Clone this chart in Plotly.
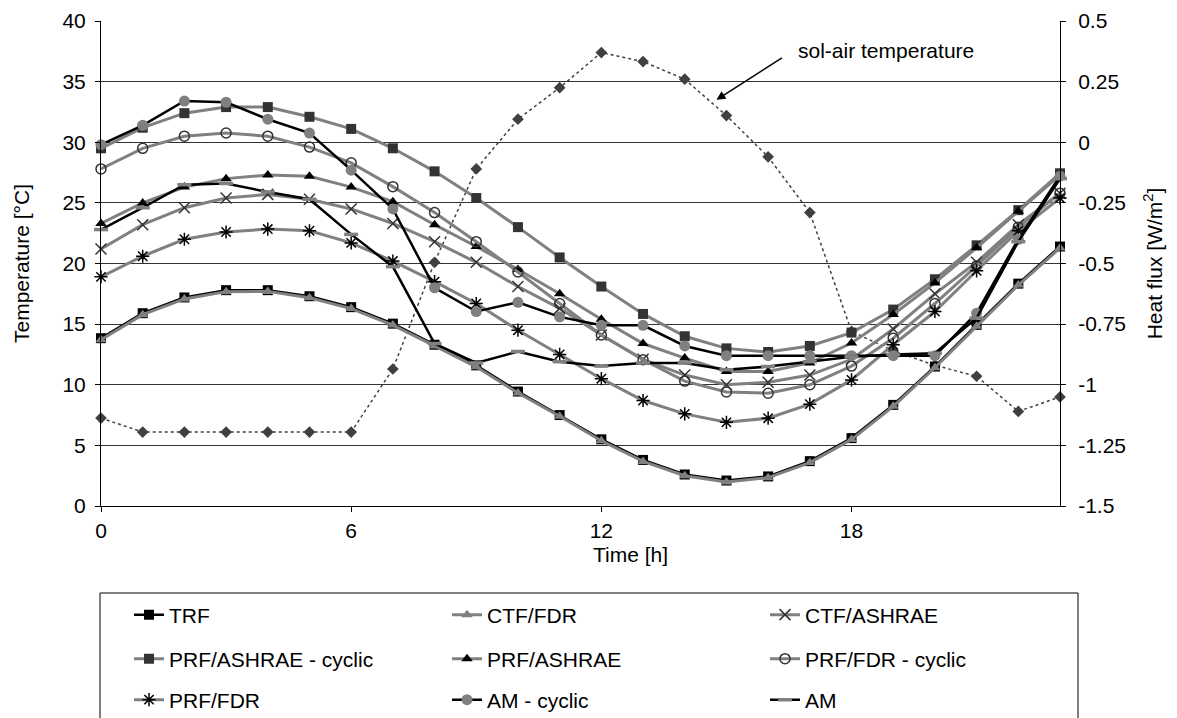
import plotly.graph_objects as go

hours = list(range(24))

# sol-air temperature [°C] (left axis)
sol_air = [7.25, 6.1, 6.1, 6.1, 6.1, 6.1, 6.1, 11.3, 20.1, 27.8, 31.9, 34.5,
           37.4, 36.65, 35.2, 32.2, 28.8, 24.2, 14.4, 12.8, 11.6, 10.7, 7.8, 9.0]

# heat flux [W/m2] (right axis)
trf = [-0.808, -0.705, -0.64, -0.61, -0.61, -0.635, -0.68, -0.748, -0.835, -0.92, -1.028, -1.125,
       -1.225, -1.31, -1.37, -1.395, -1.378, -1.315, -1.22, -1.083, -0.925, -0.753, -0.583, -0.43]
ctf_fdr = [-0.814, -0.711, -0.646, -0.616, -0.615, -0.641, -0.686, -0.754, -0.840, -0.926, -1.034, -1.130,
           -1.231, -1.316, -1.375, -1.401, -1.383, -1.321, -1.226, -1.089, -0.930, -0.759, -0.589, -0.436]
ctf_ashrae = [-0.44, -0.34, -0.27, -0.23, -0.215, -0.235, -0.275, -0.335, -0.41, -0.495, -0.595, -0.685,
              -0.795, -0.895, -0.96, -1.0, -0.99, -0.96, -0.895, -0.77, -0.625, -0.495, -0.34, -0.21]
prf_ashrae_cyc = [-0.025, 0.06, 0.12, 0.145, 0.145, 0.105, 0.055, -0.025, -0.12, -0.23, -0.35, -0.475,
                  -0.595, -0.708, -0.8, -0.85, -0.865, -0.84, -0.785, -0.69, -0.565, -0.425, -0.28, -0.128]
prf_ashrae = [-0.335, -0.25, -0.185, -0.15, -0.135, -0.14, -0.185, -0.245, -0.34, -0.43, -0.525, -0.625,
              -0.73, -0.83, -0.89, -0.945, -0.945, -0.91, -0.828, -0.71, -0.58, -0.435, -0.285, -0.135]
prf_fdr_cyc = [-0.11, -0.025, 0.025, 0.038, 0.025, -0.02, -0.085, -0.183, -0.29, -0.41, -0.535, -0.665,
               -0.795, -0.897, -0.985, -1.03, -1.035, -1.0, -0.923, -0.808, -0.665, -0.51, -0.35, -0.21]
prf_fdr = [-0.555, -0.47, -0.4, -0.37, -0.358, -0.365, -0.415, -0.49, -0.575, -0.665, -0.775, -0.875,
           -0.975, -1.065, -1.12, -1.155, -1.138, -1.08, -0.98, -0.835, -0.698, -0.53, -0.365, -0.23]
am_cyc = [-0.01, 0.07, 0.17, 0.165, 0.095, 0.038, -0.115, -0.275, -0.6, -0.698, -0.66, -0.72,
          -0.755, -0.755, -0.84, -0.88, -0.88, -0.88, -0.88, -0.88, -0.88, -0.705, -0.4, -0.14]
am = [-0.36, -0.27, -0.175, -0.17, -0.205, -0.235, -0.38, -0.513, -0.83, -0.91, -0.863, -0.905,
      -0.923, -0.91, -0.91, -0.938, -0.925, -0.905, -0.885, -0.875, -0.87, -0.725, -0.41, -0.15]

x_ticks = [0, 6, 12, 18]
y_ticks = [0, 5, 10, 15, 20, 25, 30, 35, 40]
y2_ticks = [0.5, 0.25, 0, -0.25, -0.5, -0.75, -1, -1.25, -1.5]
y2_labels = ["0.5", "0.25", "0", "-0.25", "-0.5", "-0.75", "-1", "-1.25", "-1.5"]

FONT = "Liberation Sans, Arial, sans-serif"
FS = 21
GRAY = "#808080"
DARK = "#333333"
BLACK = "#000000"

fig = go.Figure()

fig.add_trace(go.Scatter(
    x=hours, y=sol_air, mode="lines+markers", yaxis="y", showlegend=False,
    line=dict(color="#404040", width=1.5, dash="3px,3px"),
    marker=dict(symbol="diamond", size=9, color="#404040"), cliponaxis=False))

series = [
    ("TRF", trf, BLACK, 2.5, dict(symbol="square", size=10, color=BLACK), "legend"),
    ("CTF/FDR", ctf_fdr, GRAY, 3, dict(symbol="triangle-up", size=10, color=GRAY), "legend"),
    ("CTF/ASHRAE", ctf_ashrae, GRAY, 3,
     dict(symbol="x-thin-open", size=11, color=DARK, line=dict(color=DARK, width=1.5)), "legend"),
    ("PRF/ASHRAE - cyclic", prf_ashrae_cyc, GRAY, 3, dict(symbol="square", size=10, color=DARK), "legend2"),
    ("PRF/ASHRAE", prf_ashrae, GRAY, 3, dict(symbol="triangle-up", size=10, color=BLACK), "legend2"),
    ("PRF/FDR - cyclic", prf_fdr_cyc, GRAY, 3,
     dict(symbol="circle-open", size=10, color=DARK, line=dict(color=DARK, width=1.5)), "legend2"),
    ("PRF/FDR", prf_fdr, GRAY, 3,
     dict(symbol="asterisk-open", size=11, color=BLACK, line=dict(color=BLACK, width=1.5)), "legend3"),
    ("AM - cyclic", am_cyc, BLACK, 2.5, dict(symbol="circle", size=11, color=GRAY), "legend3"),
    ("AM", am, BLACK, 2.5,
     dict(symbol="line-ew-open", size=10, color=GRAY, line=dict(color=GRAY, width=3.5)), "legend3"),
]

for name, vals, lc, lw, mk, lg in series:
    fig.add_trace(go.Scatter(
        x=hours, y=vals, name=name, mode="lines+markers", yaxis="y2",
        line=dict(color=lc, width=lw), marker=mk, legend=lg, cliponaxis=False))

PLOT_L, PLOT_R, PLOT_T, PLOT_B = 101, 1060, 21, 506
PW, PH = PLOT_R - PLOT_L, PLOT_B - PLOT_T


def px_x(p):
    return (p - PLOT_L) / PW


def px_y(p):
    return (PLOT_B - p) / PH


legend_common = dict(orientation="h", xanchor="left", yanchor="middle",
                     entrywidth=273, entrywidthmode="pixels",
                     font=dict(family=FONT, size=FS, color="black"),
                     bgcolor="rgba(0,0,0,0)", borderwidth=0, x=px_x(129))

fig.update_layout(
    width=1177, height=718,
    margin=dict(l=PLOT_L, r=1177 - PLOT_R, t=PLOT_T, b=718 - PLOT_B, autoexpand=False),
    paper_bgcolor="white", plot_bgcolor="white",
    font=dict(family=FONT, size=FS, color="black"),
    xaxis=dict(range=[0, 23], tickvals=x_ticks, ticks="outside", ticklen=5, tickcolor="black",
               showline=True, linecolor="black", linewidth=1, showgrid=False, zeroline=False,
               tickfont=dict(size=FS), ticklabelstandoff=1),
    yaxis=dict(range=[0, 40], tickvals=y_ticks, ticks="outside", ticklen=5, tickcolor="black",
               showline=True, linecolor="black", linewidth=1, showgrid=True, gridcolor="#333333",
               gridwidth=1, zeroline=False, tickfont=dict(size=FS), ticklabelstandoff=5,
               title=dict(text="Temperature [°C]", font=dict(size=FS), standoff=27)),
    yaxis2=dict(range=[-1.5, 0.5], tickvals=y2_ticks, ticktext=y2_labels, overlaying="y", side="right",
                ticks="outside", ticklen=5, tickcolor="black", showline=True, linecolor="black",
                linewidth=1, showgrid=False, zeroline=False, tickfont=dict(size=FS), ticklabelstandoff=8,
                title=dict(text="Heat flux [W/m<sup>2</sup>]", font=dict(size=FS), standoff=22)),
    legend=dict(legend_common, y=px_y(615)),
    legend2=dict(legend_common, y=px_y(659)),
    legend3=dict(legend_common, y=px_y(700)),
    shapes=[dict(type="rect", xref="paper", yref="paper", x0=px_x(100), x1=px_x(1078),
                 y0=px_y(593), y1=px_y(760), line=dict(color="black", width=1), fillcolor="rgba(0,0,0,0)")],
    annotations=[
        dict(text="Time [h]", xref="paper", yref="paper", x=px_x(630), y=px_y(554),
             showarrow=False, font=dict(size=FS), xanchor="center", yanchor="middle"),
        dict(text="sol-air temperature", xref="x", yref="y", x=18.83, y=37.6,
             showarrow=False, font=dict(size=FS), xanchor="center", yanchor="middle"),
        dict(text="", xref="x", yref="y", x=14.76, y=33.5, ax=67, ay=-43,
             showarrow=True, arrowhead=2, arrowsize=1.2, arrowwidth=1.5, arrowcolor="black"),
    ],
)

fig.write_html("out.html")
